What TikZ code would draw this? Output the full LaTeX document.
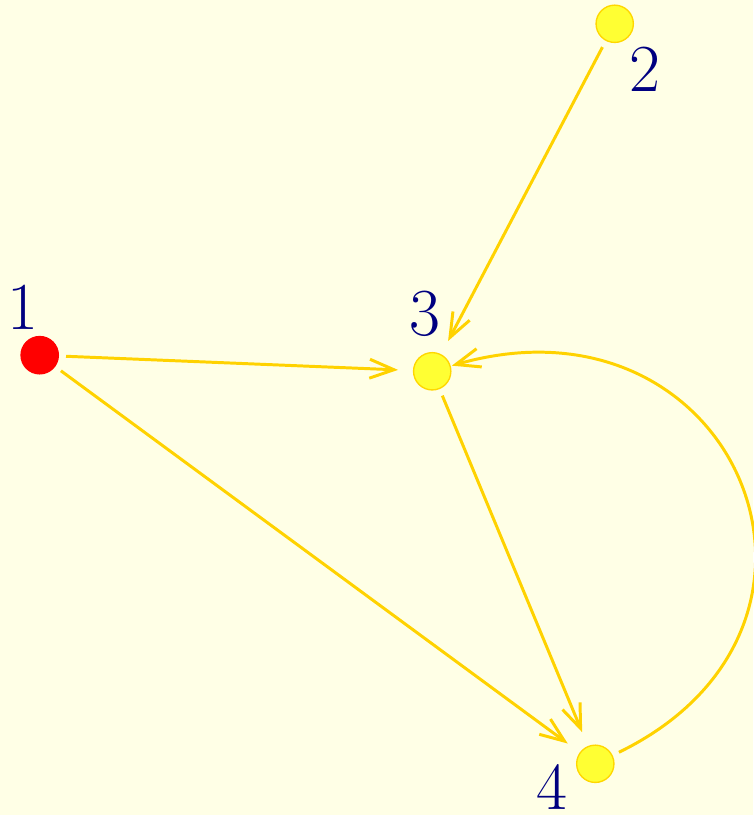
\documentclass[tikz,border=0pt]{standalone}
\usepackage{tikz}
\usetikzlibrary{positioning,calc,arrows.meta}
\definecolor{PaleCream}{HTML}{FFFFE6}
\definecolor{SunYellow}{HTML}{FFFF33}
\definecolor{EdgeGold}{HTML}{FFD200}
\definecolor{RingGold}{HTML}{FFD700}
\definecolor{LabelNavy}{HTML}{000080}

\tikzset{
  vert/.style={circle, draw=RingGold, fill=SunYellow, line width=0.5pt,
               inner sep=0pt, minimum size=13.8pt},
  vstart/.style={vert, draw=red, fill=red},
  lbl/.style={inner sep=0pt, text=LabelNavy, font=\Huge},
  edge/.style={draw=EdgeGold, line width=1.1pt,
               -{Straight Barb[length=9pt,width=7pt]},
               shorten >=5.5pt, shorten <=2.6pt}
}

\begin{document}
\begin{tikzpicture}[x=0.37pt, y=0.37pt]
  \fill[PaleCream] (0,0) rectangle (753,815);
  \useasboundingbox (0,0) rectangle (753,815);

  \node[vstart] (n1) at (39.7,459.8) {};
  \node[vert]   (n2) at (614.7,791.2) {};
  \node[vert]   (n3) at (432.2,443.7) {};
  \node[vert]   (n4) at (595.3,51.2) {};

  \node[lbl] (l1) at (23.3,508) {1};
  \node[lbl] (l2) at (644.5,746.2) {2};
  \node[lbl] (l3) at (425.3,500.8) {3};
  \node[lbl] (l4) at (552.3,27.5) {4};

  \draw[edge] (n1) -- (n3);
  \draw[edge] (n1) -- (n4);
  \draw[edge] (n2) -- (n3);
  \draw[edge] (n3) -- (n4);
  \draw[edge, shorten >=0.4pt] (n4) to[out=26, in=16, looseness=1.8] (n3);
\end{tikzpicture}
\end{document}
